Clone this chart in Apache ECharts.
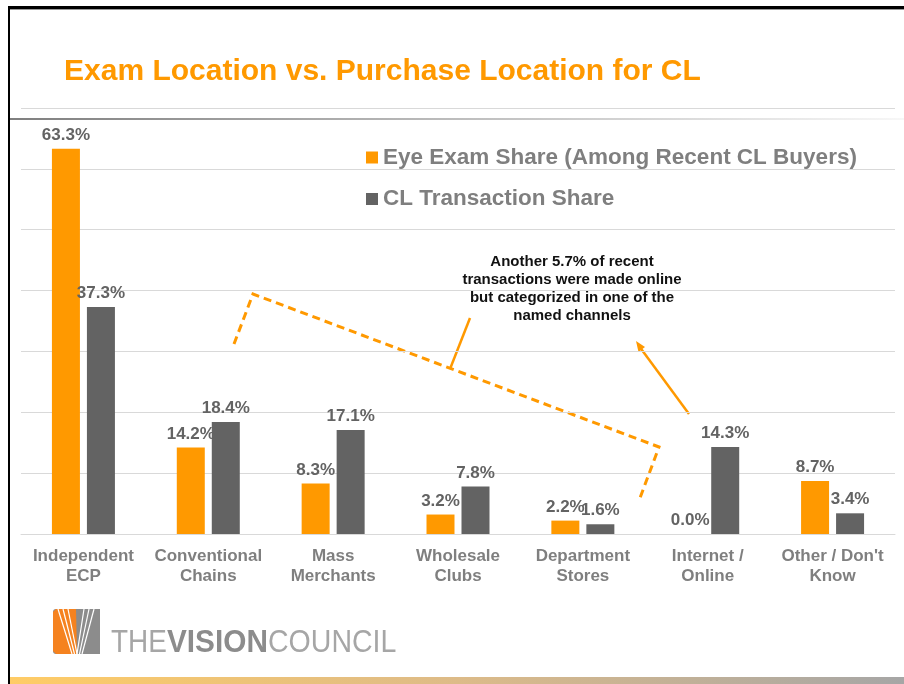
<!DOCTYPE html>
<html>
<head>
<meta charset="utf-8">
<script src="https://cdn.jsdelivr.net/npm/echarts@6/dist/echarts.min.js"></script>
<style>
html,body{margin:0;padding:0;background:#fff;}
#chart{width:904px;height:684px;}
</style>
</head>
<body>
<div id="chart"></div>
<script>
// ---- data ----
var categories = ['Independent\nECP', 'Conventional\nChains', 'Mass\nMerchants', 'Wholesale\nClubs', 'Department\nStores', 'Internet /\nOnline', "Other / Don't\nKnow"];
var eyeExamShare = [63.3, 14.2, 8.3, 3.2, 2.2, 0.0, 8.7];
var clTransactionShare = [37.3, 18.4, 17.1, 7.8, 1.6, 14.3, 3.4];
var seriesNames = ['Eye Exam Share (Among Recent CL Buyers)', 'CL Transaction Share'];
var titleText = 'Exam Location vs. Purchase Location for CL';
var noteText = 'Another 5.7% of recent\ntransactions were made online\nbut categorized in one of the\nnamed channels';

var FONT = "'Liberation Sans', Arial, Helvetica, sans-serif";
var ORANGE = '#FF9900';
var DARK = '#636363';

var chart = echarts.init(document.getElementById('chart'), null, {renderer: 'canvas'});

function pctLabel(p) { return p.value.toFixed(1) + '%'; }

var option = {
  backgroundColor: '#ffffff',
  animation: false,
  title: {
    text: titleText,
    left: 59,
    top: 52,
    textStyle: {fontFamily: FONT, fontSize: 30, fontWeight: 'bold', color: ORANGE}
  },
  legend: {
    orient: 'vertical',
    left: 361,
    top: 141,
    itemWidth: 12,
    itemHeight: 12,
    itemGap: 18.5,
    icon: 'rect',
    textStyle: {fontFamily: FONT, fontSize: 22.5, fontWeight: 'bold', color: '#7f7f7f', lineHeight: 22.5},
    data: seriesNames
  },
  grid: {left: 21, right: 9, top: 108, bottom: 150, containLabel: false},
  xAxis: {
    type: 'category',
    data: categories,
    axisTick: {show: false},
    axisLine: {lineStyle: {color: '#d9d9d9', width: 1}},
    axisLabel: {
      interval: 0, margin: 12,
      fontFamily: FONT, fontSize: 17, fontWeight: 'bold', color: '#7f7f7f', lineHeight: 20
    }
  },
  yAxis: {
    type: 'value',
    min: 0, max: 70, interval: 10,
    axisLabel: {show: false},
    axisLine: {show: false},
    axisTick: {show: false},
    splitLine: {lineStyle: {color: '#d9d9d9', width: 1}}
  },
  series: [
    {
      name: seriesNames[0],
      type: 'bar',
      data: eyeExamShare,
      barWidth: 28,
      barGap: '25%',
      itemStyle: {color: ORANGE},
      label: {show: true, position: 'top', distance: 5, formatter: pctLabel,
        fontFamily: FONT, fontSize: 17, fontWeight: 'bold', color: DARK}
    },
    {
      name: seriesNames[1],
      type: 'bar',
      data: clTransactionShare,
      barWidth: 28,
      itemStyle: {color: DARK},
      label: {show: true, position: 'top', distance: 5, formatter: pctLabel,
        fontFamily: FONT, fontSize: 17, fontWeight: 'bold', color: DARK}
    }
  ],
  graphic: [
    // slide frame
    {type: 'rect', shape: {x: 8, y: 6, width: 896, height: 3}, style: {fill: '#000'}, silent: true},
    {type: 'rect', shape: {x: 8, y: 9, width: 896, height: 1}, style: {fill: '#999'}, silent: true},
    {type: 'rect', shape: {x: 8, y: 6, width: 2, height: 678}, style: {fill: '#000'}, silent: true},
    {type: 'rect', shape: {x: 10, y: 118, width: 894, height: 2}, silent: true,
      style: {fill: new echarts.graphic.LinearGradient(0, 0, 1, 0, [
        {offset: 0, color: '#7f7f7f'}, {offset: 0.5, color: '#bdbdbd'}, {offset: 1, color: '#f7f7f7'}])}},
    {type: 'rect', shape: {x: 10, y: 677, width: 894, height: 7}, silent: true,
      style: {fill: new echarts.graphic.LinearGradient(0, 0, 1, 0, [
        {offset: 0, color: '#FFCC66'}, {offset: 0.5, color: '#DDBB88'}, {offset: 1, color: '#A6A6A6'}])}},
    // annotation bracket
    {type: 'polyline', silent: true, shape: {points: [[234, 344], [253, 294], [659, 447], [640, 498]]},
      style: {stroke: ORANGE, lineWidth: 3, lineDash: [8, 5], fill: null}},
    {type: 'line', silent: true, shape: {x1: 450, y1: 369, x2: 470, y2: 318},
      style: {stroke: ORANGE, lineWidth: 2.5}},
    // arrow
    {type: 'line', silent: true, shape: {x1: 689, y1: 414, x2: 639, y2: 346},
      style: {stroke: ORANGE, lineWidth: 2.5}},
    {type: 'polygon', silent: true, shape: {points: [[636, 341], [645, 347], [638.5, 352]]},
      style: {fill: ORANGE}},
    // annotation text
    {type: 'text', x: 572, y: 253, silent: true,
      style: {text: noteText, align: 'center', verticalAlign: 'top', lineHeight: 18,
        font: 'bold 15px ' + FONT, fill: '#111'}},
    // logo icon
    {type: 'rect', silent: true, shape: {x: 53, y: 609, width: 47, height: 45, r: 3}, style: {fill: '#8c8c8c'}},
    {type: 'polygon', silent: true, shape: {points: [[53, 612], [56, 609], [76, 609], [77, 654], [56, 654], [53, 651]]}, style: {fill: '#F5821F'}},
    {type: 'polygon', silent: true, shape: {points: [[80, 609], [100, 609], [100, 654], [77, 654]]}, style: {fill: '#8c8c8c'}},
    {type: 'line', silent: true, shape: {x1: 58, y1: 609, x2: 72, y2: 654}, style: {stroke: '#fff', lineWidth: 1.2}},
    {type: 'line', silent: true, shape: {x1: 63, y1: 609, x2: 74.5, y2: 654}, style: {stroke: '#fff', lineWidth: 1.2}},
    {type: 'line', silent: true, shape: {x1: 68, y1: 609, x2: 77, y2: 654}, style: {stroke: '#fff', lineWidth: 1.2}},
    {type: 'line', silent: true, shape: {x1: 84, y1: 609, x2: 77, y2: 654}, style: {stroke: '#fff', lineWidth: 1.2}},
    {type: 'line', silent: true, shape: {x1: 89, y1: 609, x2: 79.5, y2: 654}, style: {stroke: '#fff', lineWidth: 1.2}},
    {type: 'line', silent: true, shape: {x1: 94, y1: 609, x2: 82, y2: 654}, style: {stroke: '#fff', lineWidth: 1.2}},
    // logo text
    {type: 'text', x: 111, y: 643, scaleX: 0.9, silent: true,
      style: {text: 'THE', verticalAlign: 'middle', align: 'left', font: '31px ' + FONT, fill: '#a6a6a6'}},
    {type: 'text', x: 167, y: 643, scaleX: 0.96, silent: true,
      style: {text: 'VISION', verticalAlign: 'middle', align: 'left', font: 'bold 31px ' + FONT, fill: '#8c8c8c'}},
    {type: 'text', x: 268, y: 643, scaleX: 0.92, silent: true,
      style: {text: 'COUNCIL', verticalAlign: 'middle', align: 'left', font: '31px ' + FONT, fill: '#a6a6a6'}}
  ]
};
chart.setOption(option);
</script>
</body>
</html>
